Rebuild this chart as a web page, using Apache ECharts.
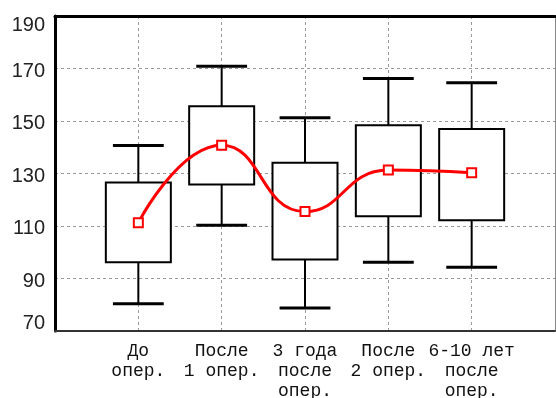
<!DOCTYPE html>
<html>
<head>
<meta charset="utf-8">
<script src="https://cdn.jsdelivr.net/npm/echarts@6/dist/echarts.min.js"></script>
<style>html,body{margin:0;padding:0;background:#fff}#c{width:556px;height:398px}</style>
</head>
<body>
<div id="c"></div>
<script>
const categories = ['До\nопер.', 'После\n1 опер.', '3 года\nпосле\nопер.', 'После\n2 опер.', '6-10 лет\nпосле\nопер.'];
const whiskerLow = [80.4, 110.3, 78.8, 96.2, 94.3];
const q1 = [96.2, 125.8, 97.2, 113.7, 112.2];
const q3 = [126.6, 155.6, 134.1, 148.4, 147.0];
const whiskerHigh = [140.7, 170.9, 151.2, 166.2, 164.6];
const means = [111.2, 140.8, 115.5, 131.3, 130.3];
const yTicks = [70, 90, 110, 130, 150, 170, 190];

const boxData = categories.map((c, i) => [i + 1, whiskerLow[i], q1[i], q3[i], whiskerHigh[i]]);
const meanData = categories.map((c, i) => [i + 1, means[i]]);
const yMin = yTicks[0], yMax = yTicks[yTicks.length - 1];

const chart = echarts.init(document.getElementById('c'), null, {renderer: 'canvas'});
const gridStyle = {color: '#9a9a9a', width: 1, type: [3, 3]};
const yFont = {color: '#222', fontFamily: 'Liberation Sans', fontSize: 20};
chart.setOption({
  animation: false,
  grid: {left: 55, top: 16, right: 1, bottom: 67, containLabel: false, outerBoundsMode: 'none'},
  xAxis: [{
    type: 'value', min: 0, max: 6, interval: 1,
    axisLine: {show: true, onZero: false, lineStyle: {color: '#333', width: 2}},
    axisTick: {show: false},
    splitLine: {show: true, lineStyle: gridStyle},
    axisLabel: {
      margin: 10, color: '#111', fontFamily: 'Liberation Mono', fontSize: 18, lineHeight: 20,
      formatter: v => (v >= 1 && v <= categories.length) ? categories[v - 1] : ''
    }
  }, {
    type: 'value', min: 0, max: 6, position: 'top',
    axisLine: {show: true, onZero: false, lineStyle: {color: '#000', width: 3}},
    axisTick: {show: false}, axisLabel: {show: false}, splitLine: {show: false}
  }],
  yAxis: [{
    type: 'value', min: yMin, max: yMax, interval: 20,
    axisLine: {show: true, onZero: false, lineStyle: {color: '#000', width: 3}},
    axisTick: {show: false},
    splitLine: {show: true, lineStyle: gridStyle},
    axisLabel: {
      margin: 10, ...yFont,
      formatter: v => v === yMax ? '{t|' + v + '}' : v === yMin ? '{b|' + v + '}' : '{n|' + v + '}',
      rich: {
        t: {...yFont, padding: [18, 0, 0, 0]},
        b: {...yFont, padding: [0, 0, 16, 0]},
        n: {...yFont, padding: [5, 0, 0, 0]}
      }
    }
  }, {
    type: 'value', min: yMin, max: yMax, position: 'right',
    axisLine: {show: true, onZero: false, lineStyle: {color: '#888', width: 1}},
    axisTick: {show: false}, axisLabel: {show: false}, splitLine: {show: false}
  }],
  series: [{
    type: 'custom',
    data: boxData,
    z: 3,
    renderItem: function (params, api) {
      const x = api.value(0);
      const lo = api.coord([x, api.value(1)]);
      const b1 = api.coord([x, api.value(2)]);
      const b3 = api.coord([x, api.value(3)]);
      const hi = api.coord([x, api.value(4)]);
      const unit = api.size([1, 0])[0];
      const bw = unit * 0.78;
      const cw = unit * 0.61;
      const st = {stroke: '#000', lineWidth: 2, fill: null};
      return {
        type: 'group',
        children: [
          {type: 'line', shape: {x1: hi[0], y1: hi[1], x2: b3[0], y2: b3[1]}, style: st},
          {type: 'line', shape: {x1: b1[0], y1: b1[1], x2: lo[0], y2: lo[1]}, style: st},
          {type: 'line', shape: {x1: hi[0] - cw / 2, y1: hi[1], x2: hi[0] + cw / 2, y2: hi[1]}, style: {stroke: '#000', lineWidth: 3}},
          {type: 'line', shape: {x1: lo[0] - cw / 2, y1: lo[1], x2: lo[0] + cw / 2, y2: lo[1]}, style: {stroke: '#000', lineWidth: 3}},
          {type: 'rect', shape: {x: b3[0] - bw / 2, y: b3[1], width: bw, height: b1[1] - b3[1]}, style: {stroke: '#000', lineWidth: 2, fill: '#fff'}}
        ]
      };
    }
  }, {
    type: 'line',
    data: meanData,
    z: 5,
    smooth: 0.5,
    symbol: 'rect',
    symbolSize: 9,
    itemStyle: {color: '#fff', borderColor: '#ff0000', borderWidth: 2},
    lineStyle: {color: '#ff0000', width: 3}
  }]
});
</script>
</body>
</html>
